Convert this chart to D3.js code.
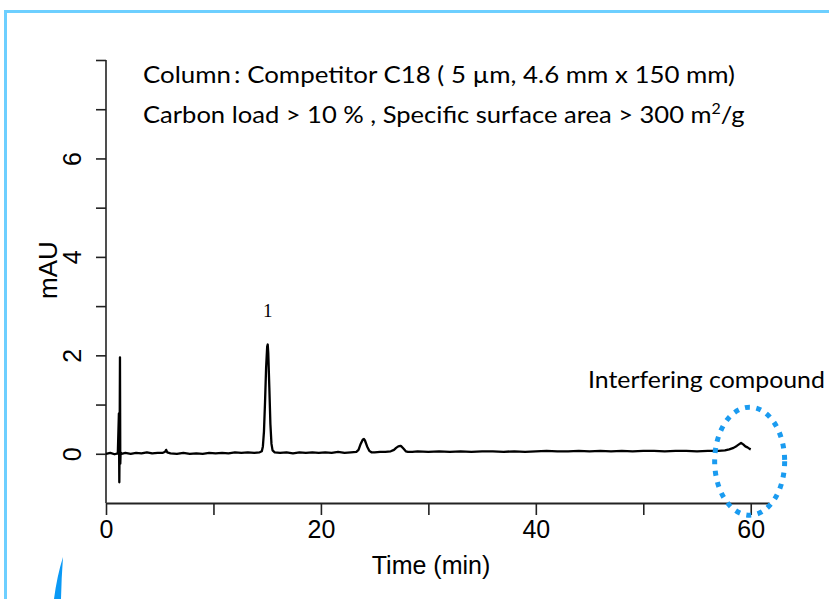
<!DOCTYPE html>
<html>
<head>
<meta charset="utf-8">
<script src="https://cdn.jsdelivr.net/npm/d3@7"></script>
<style>
  body { margin: 0; background: #fff; }
  svg { display: block; }
</style>
</head>
<body>
<svg id="chart" width="829" height="599"></svg>
<script>
// chromatogram
const time = [0, 0.4, 0.8, 1.1, 1.2, 1.22, 1.24, 1.27, 1.3, 1.33, 1.36, 1.45, 1.8, 2.3, 2.8, 3.3, 3.8, 4.3, 4.8,
  5.3, 5.5, 5.6, 5.7, 6.0, 6.6, 7.2, 7.8, 8.4, 9.0, 9.6, 10.2, 10.8, 11.4, 12.0, 12.6, 13.2, 13.8, 14.3, 14.5,
  14.6, 14.7, 14.8, 14.9, 15.0, 15.05, 15.1, 15.2, 15.3, 15.4, 15.5, 15.7, 16.2, 16.8, 17.4, 18.0, 18.6, 19.2,
  19.8, 20.4, 21.0, 21.6, 22.2, 22.8, 23.3, 23.5, 23.7, 23.9, 24.0, 24.1, 24.3, 24.5, 24.7, 25.0, 25.5, 26.0,
  26.5, 26.8, 27.0, 27.2, 27.4, 27.5, 27.7, 27.9, 28.1, 28.5, 29.0, 30, 31, 32, 33, 34, 35, 36, 37, 38, 39, 40,
  41, 42, 43, 44, 45, 46, 47, 48, 49, 50, 51, 52, 53, 54, 55, 56, 57, 57.6, 58.0, 58.4, 58.7, 58.9, 59.1, 59.3,
  59.5, 59.7, 59.9, 60.0];
const mAU = [0.00, 0.02, -0.01, 0.01, 0.82, 0.05, -0.58, 0.3, 1.96, -0.2, 0.03, 0.0, 0.02, 0.0, 0.02, 0.01, 0.03, 0.01, 0.02,
  0.02, 0.04, 0.08, 0.03, 0.01, 0.0, 0.02, 0.0, 0.01, 0.0, 0.02, 0.01, 0.02, 0.01, 0.03, 0.02, 0.03, 0.02, 0.03, 0.05,
  0.15, 0.45, 1.05, 1.75, 2.18, 2.22, 2.05, 1.35, 0.6, 0.2, 0.07, 0.03, 0.02, 0.03, 0.01, 0.03, 0.02, 0.03,
  0.02, 0.03, 0.02, 0.04, 0.02, 0.03, 0.04, 0.08, 0.2, 0.29, 0.3, 0.27, 0.15, 0.06, 0.03, 0.03, 0.04, 0.04,
  0.05, 0.08, 0.12, 0.15, 0.16, 0.15, 0.1, 0.05, 0.04, 0.04, 0.05, 0.04, 0.05, 0.04, 0.05, 0.04, 0.05, 0.05, 0.04, 0.05, 0.04, 0.05,
  0.06, 0.05, 0.05, 0.06, 0.05, 0.06, 0.05, 0.06, 0.05, 0.06, 0.06, 0.05, 0.06, 0.06, 0.05, 0.06, 0.06, 0.07, 0.09, 0.12, 0.16, 0.19, 0.22, 0.19,
  0.15, 0.13, 0.1, 0.09];

const xTicks = [0, 10, 20, 30, 40, 50, 60];
const xLabels = [0, 20, 40, 60];
const yTicks = [0, 1, 2, 3, 4, 5, 6, 7, 8];
const yLabels = [0, 2, 4, 6];

const peakLabels = [{ t: 15.05, v: 2.22, text: "1" }];
const notes = ["Column\u2009:  Competitor C18 ( 5 \u00b5m, 4.6 mm x 150 mm)"];
const note2 = ["Carbon load > 10 % , Specific surface area > 300 m", "2", "/g"];
const marker = { t: 59.3, v: 0.8, text: "Interfering compound" };

const svg = d3.select("#chart");

// frame in light blue
svg.append("path")
  .attr("d", "M5.5,599 L5.5,11.5 L829,11.5")
  .attr("fill", "none")
  .attr("stroke", "#6dcfff")
  .attr("stroke-width", 3);

svg.append("path")
  .attr("d", "M63,557 Q57,576 54,599 L61,599 Q61.5,577 63,557 Z")
  .attr("fill", "#0a99f5");

const x = d3.scaleLinear().domain([0, 61.7]).range([106, 769]);
const y = d3.scaleLinear().domain([-1, 8]).range([503, 60]);

const axisFont = "'Liberation Sans', Arial, sans-serif";

// x axis
const gx = svg.append("g").attr("transform", "translate(0,503)")
  .call(d3.axisBottom(x).tickValues(xTicks).tickSize(12).tickSizeOuter(0)
    .tickFormat(d => xLabels.includes(d) ? d : ""));
gx.select(".domain").attr("stroke", "#222").attr("stroke-width", 2);
gx.selectAll(".tick line").attr("stroke", "#222").attr("stroke-width", 1.6);
gx.selectAll(".tick text")
  .attr("y", 17)
  .attr("font-family", axisFont)
  .attr("font-size", 25)
  .attr("fill", "#000");

// y axis
const gy = svg.append("g").attr("transform", "translate(106,0)")
  .call(d3.axisLeft(y).tickValues(yTicks).tickSize(10).tickSizeOuter(0)
    .tickFormat(d => yLabels.includes(d) ? d : ""));
gy.select(".domain").attr("stroke", "#222").attr("stroke-width", 1.6)
  .attr("d", `M0,${y(8)}V${y(-1)}`);
gy.selectAll(".tick line").attr("stroke", "#222").attr("stroke-width", 1.6);
gy.selectAll(".tick text")
  .attr("x", 0).attr("dy", 0)
  .attr("transform", "translate(-34,0) rotate(-90)")
  .attr("text-anchor", "middle")
  .attr("dominant-baseline", "central")
  .attr("font-family", axisFont)
  .attr("font-size", 25)
  .attr("fill", "#000");

svg.append("text")
  .attr("transform", "translate(48,270) rotate(-90)")
  .attr("text-anchor", "middle")
  .attr("dominant-baseline", "central")
  .attr("font-family", axisFont)
  .attr("font-size", 26)
  .text("mAU");

svg.append("text")
  .attr("x", 431).attr("y", 574)
  .attr("text-anchor", "middle")
  .attr("font-family", axisFont)
  .attr("font-size", 25)
  .text("Time (min)");

// trace
const pts = time.map((t, i) => [t, mAU[i]]);
svg.append("path")
  .datum(pts)
  .attr("fill", "none")
  .attr("stroke", "#000")
  .attr("stroke-width", 2.3)
  .attr("stroke-linejoin", "round")
  .attr("d", d3.line().x(d => x(d[0])).y(d => y(d[1])));

svg.selectAll(".peak").data(peakLabels).enter()
  .append("text")
  .attr("x", d => x(d.t)).attr("y", d => y(d.v) - 28)
  .attr("text-anchor", "middle")
  .attr("font-family", "'Liberation Serif', 'Times New Roman', serif")
  .attr("font-size", 19)
  .text(d => d.text);

// column notes
const noteFont = "Lato, 'Open Sans', sans-serif";
svg.append("text")
  .attr("x", 143).attr("y", 83)
  .attr("font-family", noteFont).attr("font-size", 24)
  .attr("textLength", 592).attr("lengthAdjust", "spacingAndGlyphs")
  .text(notes[0]);

const t2 = svg.append("text")
  .attr("x", 143).attr("y", 123)
  .attr("font-family", noteFont).attr("font-size", 24);
t2.append("tspan").text(note2[0]);
t2.append("tspan").attr("dy", -9).attr("font-size", 15).text(note2[1]);
t2.append("tspan").attr("dy", 9).text(note2[2]);
// squeeze to the width seen in the picture
const w2 = t2.node().getComputedTextLength();
t2.attr("transform", `translate(143,0) scale(${602 / w2},1) translate(-143,0)`);

const tm = svg.append("text")
  .attr("x", 588).attr("y", 388)
  .attr("font-family", noteFont).attr("font-size", 24)
  .text(marker.text);
const wm = tm.node().getComputedTextLength();
tm.attr("transform", `translate(588,0) scale(${237 / wm},1) translate(-588,0)`);

svg.append("ellipse")
  .attr("cx", x(59.9)).attr("cy", y(-0.15))
  .attr("rx", 35).attr("ry", 54)
  .attr("fill", "none")
  .attr("stroke", "#1a9bf0")
  .attr("stroke-width", 5)
  .attr("stroke-dasharray", "5 6.5");
</script>
</body>
</html>
